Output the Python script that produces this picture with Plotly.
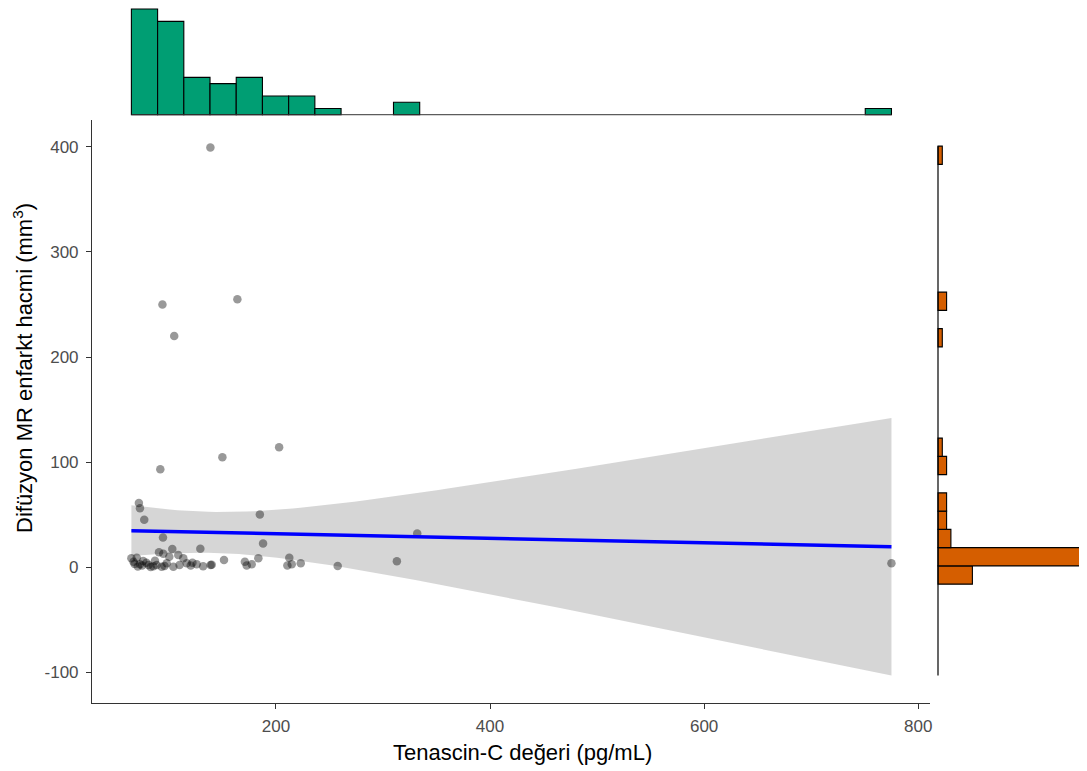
import numpy as np
import plotly.graph_objects as go

# ---------------- data ----------------
tenascin = [
    # dense cluster near zero
    65, 70, 76, 67, 73, 81, 85.5, 88.6, 68, 71, 75, 79, 83, 87,
    90.8, 94.8, 103.2, 108.8, 100.4, 98, 104.2, 93.3, 113.5, 96, 110,
    116.7, 120.4, 126, 129.4, 122, 132,
    139, 140, 151.5,
    171, 172.7, 177.4, 183.6,
    210.7,
    212.5, 214.8, 223.2,
    257.7,
    313,
    775,
    # higher values
    94, 164, 105, 203, 150, 92, 72, 73, 77, 185, 94.5, 188, 332, 138.8,
]
infarct = [
    8.3, 8.9, 5.7, 5.0, 2.6, 1.9, 0.8, 1.9, 3.0, 0.5, 1.5, 4.0, 0.0, 6.0,
    14.0, 12.7, 17.1, 11.4, 9.8, 3.5, 0.3, 0.3, 8.3, 1.0, 2.0,
    3.5, 1.5, 2.6, 17.5, 4.0, 0.8,
    1.9, 2.2, 6.7,
    5.0, 1.5, 2.6, 8.3,
    1.5,
    8.9, 2.6, 3.5,
    0.9,
    5.4,
    3.5,
    250, 255, 220, 114, 104.5, 93, 61, 56, 45, 50, 28, 22.5, 32, 399.5,
]

x_tick_vals = [200, 400, 600, 800]
y_tick_vals = [-100, 0, 100, 200, 300, 400]

x_title = "Tenascin-C değeri (pg/mL)"
y_title = "Difüzyon MR enfarkt hacmi (mm<sup>3</sup>)"

# ---------------- styling constants ----------------
GREEN = "#009E73"
ORANGE = "#D55E00"
X_NBINS = 29
Y_BIN_START, Y_BIN_SIZE, Y_NBINS = -103.2, 17.38, 29
T975 = 2.0025  # t quantile, df = n-2 = 57

OFF = 8                     # default page margin of the html body
W, H = 1087 - OFF, 771 - OFF
FONT = "Liberation Sans, Arial, sans-serif"


def fx(px):
    return (px - OFF) / W


def fy(py):
    return 1 - (py - OFF) / H


# ---------------- computations ----------------
x = np.array(tenascin, dtype=float)
y = np.array(infarct, dtype=float)
n = len(x)

slope, intercept = np.polyfit(x, y, 1)
xs = np.linspace(x.min(), x.max(), 100)
yhat = intercept + slope * xs
resid = y - (intercept + slope * x)
s = np.sqrt(np.sum(resid ** 2) / (n - 2))
sxx = np.sum((x - x.mean()) ** 2)
se = s * np.sqrt(1.0 / n + (xs - x.mean()) ** 2 / sxx)
upper = yhat + T975 * se
lower = yhat - T975 * se

x_counts, x_edges = np.histogram(x, bins=X_NBINS)
x_centers = (x_edges[:-1] + x_edges[1:]) / 2
x_width = np.diff(x_edges)

y_edges = Y_BIN_START + Y_BIN_SIZE * np.arange(Y_NBINS + 1)
y_counts, _ = np.histogram(y, bins=y_edges)
y_centers = (y_edges[:-1] + y_edges[1:]) / 2

# ---------------- figure ----------------
fig = go.Figure()

# confidence band
fig.add_trace(go.Scatter(
    x=np.concatenate([xs, xs[::-1]]),
    y=np.concatenate([upper, lower[::-1]]),
    fill="toself", fillcolor="rgba(153,153,153,0.4)",
    line=dict(width=0), mode="lines", hoverinfo="skip", showlegend=False,
    xaxis="x", yaxis="y",
))
# points
fig.add_trace(go.Scatter(
    x=x, y=y, mode="markers",
    marker=dict(size=8.5, color="rgba(0,0,0,0.4)", line=dict(width=0)),
    showlegend=False, xaxis="x", yaxis="y",
))
# regression line
fig.add_trace(go.Scatter(
    x=xs, y=yhat, mode="lines", line=dict(color="#0000FF", width=3.5),
    showlegend=False, xaxis="x", yaxis="y",
))

# top marginal histogram
nz = x_counts > 0
fig.add_trace(go.Scatter(
    x=[x_edges[0], x_edges[-1]], y=[0, 0], mode="lines",
    line=dict(color="#333333", width=1), showlegend=False,
    xaxis="x", yaxis="y2", hoverinfo="skip",
))
fig.add_trace(go.Bar(
    x=x_centers[nz], y=x_counts[nz], width=x_width[nz],
    marker=dict(color=GREEN, line=dict(color="black", width=1.1)),
    showlegend=False, xaxis="x", yaxis="y2",
))

# right marginal histogram
nzy = y_counts > 0
fig.add_trace(go.Scatter(
    x=[0, 0], y=[y_edges[0], y_edges[-1]], mode="lines",
    line=dict(color="black", width=1.2), showlegend=False,
    xaxis="x2", yaxis="y", hoverinfo="skip",
))
fig.add_trace(go.Bar(
    y=y_centers[nzy], x=y_counts[nzy], width=Y_BIN_SIZE, orientation="h",
    marker=dict(color=ORANGE, line=dict(color="black", width=1.1)),
    showlegend=False, xaxis="x2", yaxis="y",
))

axis_common = dict(
    showline=True, linecolor="#333333", linewidth=1.1,
    ticks="outside", ticklen=5, tickcolor="#333333", tickwidth=1.1,
    showgrid=False, zeroline=False,
    tickfont=dict(family=FONT, size=17, color="#4D4D4D"),
    automargin=False,
)

fig.update_layout(
    width=W, height=H, autosize=False,
    margin=dict(l=0, r=0, t=0, b=0),
    paper_bgcolor="white", plot_bgcolor="white",
    font=dict(family=FONT, color="black"),
    barmode="overlay",
    xaxis=dict(
        domain=[fx(92), fx(930)], range=[28.2, 811.0], anchor="y",
        tickvals=x_tick_vals, ticktext=[str(v) for v in x_tick_vals],
        ticklabelstandoff=3,
        **axis_common,
    ),
    yaxis=dict(
        domain=[fy(703), fy(120)], range=[-129.5, 425.7], anchor="x",
        tickvals=y_tick_vals, ticktext=[str(v) for v in y_tick_vals],
        ticklabelstandoff=4,
        **axis_common,
    ),
    yaxis2=dict(
        domain=[fy(120), 1.0], range=[-0.85, 17.15], anchor="x",
        visible=False, showgrid=False, zeroline=False,
    ),
    xaxis2=dict(
        domain=[fx(930), 1.0], range=[-1.86, 34.65], anchor="y",
        visible=False, showgrid=False, zeroline=False,
    ),
    annotations=[
        dict(text=x_title, xref="paper", yref="paper", x=fx(522), y=fy(752),
             xanchor="center", yanchor="middle", showarrow=False,
             font=dict(family=FONT, size=22, color="black")),
        dict(text=y_title, xref="paper", yref="paper", x=fx(23), y=fy(368),
             xanchor="center", yanchor="middle", showarrow=False, textangle=-90,
             font=dict(family=FONT, size=22, color="black")),
    ],
)

fig.write_html("out.html")
